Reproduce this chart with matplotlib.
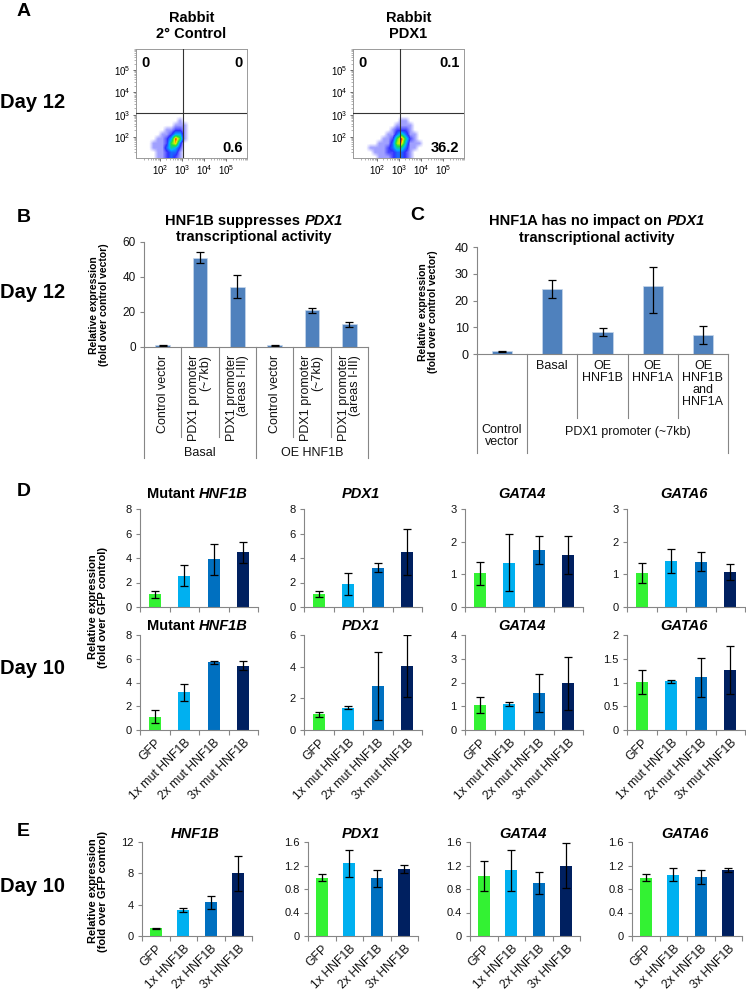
import numpy as np
import matplotlib
matplotlib.use('Agg')
import matplotlib.pyplot as plt
from matplotlib.colors import LinearSegmentedColormap
from matplotlib.transforms import blended_transform_factory
from matplotlib.ticker import FuncFormatter

plt.rcParams['font.family'] = ['Liberation Sans', 'DejaVu Sans']
plt.rcParams['mathtext.default'] = 'regular'

# ---------------- data ----------------
# panel A: coarse density of the flow dot plots (log10 units), 0 = empty, 9 = densest
flow_extent = (1.4, 4.2, 1.0, 3.4)
flow_ctrl = [
    [0, 0, 0, 0, 0, 0, 0, 0, 0, 0, 0, 0, 0, 0],
    [0, 0, 0, 0, 0, 0, 0, 0, 0, 0, 0, 0, 0, 0],
    [0, 0, 0, 0, 0, 0, 0, 0, 0, 0, 0, 0, 0, 0],
    [0, 0, 0, 0, 0, 0, 0, 1, 0, 0, 0, 0, 0, 0],
    [0, 0, 0, 0, 0, 0, 1, 1, 1, 0, 0, 0, 0, 0],
    [0, 0, 0, 0, 1, 1, 2, 2, 1, 0, 0, 0, 0, 0],
    [0, 0, 0, 1, 1, 2, 4, 4, 1, 0, 0, 0, 0, 0],
    [0, 0, 1, 1, 2, 4, 9, 6, 1, 0, 0, 0, 0, 0],
    [0, 1, 1, 1, 2, 6, 8, 3, 0, 0, 0, 0, 0, 0],
    [0, 1, 1, 1, 3, 5, 4, 2, 0, 0, 0, 0, 0, 0],
    [0, 0, 1, 1, 2, 3, 3, 1, 0, 0, 0, 0, 0, 0],
    [0, 0, 1, 1, 2, 3, 2, 1, 0, 0, 0, 0, 0, 0],
]
flow_pdx1 = [
    [0, 0, 0, 0, 0, 0, 0, 0, 0, 0, 0, 0, 0, 0],
    [0, 0, 0, 0, 0, 0, 0, 0, 0, 0, 0, 0, 0, 0],
    [0, 0, 0, 0, 0, 0, 0, 0, 0, 0, 0, 0, 0, 0],
    [0, 0, 0, 0, 0, 0, 0, 0, 1, 1, 0, 0, 0, 0],
    [0, 0, 0, 0, 0, 0, 0, 1, 1, 1, 1, 0, 0, 0],
    [0, 0, 0, 0, 0, 0, 1, 2, 2, 2, 1, 0, 0, 0],
    [0, 0, 0, 0, 0, 1, 1, 3, 5, 3, 1, 1, 0, 0],
    [0, 0, 0, 0, 1, 1, 2, 6, 9, 5, 2, 1, 0, 0],
    [0, 0, 0, 1, 1, 1, 3, 7, 8, 4, 1, 1, 1, 0],
    [0, 1, 1, 1, 1, 2, 3, 5, 5, 3, 1, 1, 0, 0],
    [0, 0, 1, 1, 1, 2, 2, 3, 3, 2, 1, 0, 0, 0],
    [0, 0, 0, 1, 1, 1, 2, 3, 3, 2, 1, 0, 0, 0],
]
quad_ctrl = ['0', '0', '0.6']
quad_pdx1 = ['0', '0.1', '36.2']
gate_x, gate_y = 3.04, 3.06

# panel B
b_labels = ['Control vector', 'PDX1 promoter\n(~7kb)', 'PDX1 promoter\n(areas I-III)',
            'Control vector', 'PDX1 promoter\n(~7kb)', 'PDX1 promoter\n(areas I-III)']
b_groups = ['Basal', 'OE HNF1B']
b_vals = [1.0, 51.0, 34.5, 1.0, 21.0, 13.1]
b_err = [0.3, 3.0, 6.5, 0.3, 1.4, 1.4]

# panel C
c_labels = ['', 'Basal', 'OE\nHNF1B', 'OE\nHNF1A', 'OE\nHNF1B\nand\nHNF1A']
c_groups = ['Control\nvector', 'PDX1 promoter (~7kb)']
c_vals = [1.0, 24.2, 8.3, 25.4, 7.1]
c_err_lo = [0.2, 3.4, 1.4, 10.1, 3.3]
c_err_hi = [0.2, 3.4, 1.4, 7.0, 3.3]

# panel D
d_labels = ['GFP', '1x mut HNF1B', '2x mut HNF1B', '3x mut HNF1B']
d1_hnf1b = [1.04, 2.54, 3.88, 4.45]; d1_hnf1b_err = [0.30, 0.85, 1.27, 0.83]
d1_pdx1 = [1.04, 1.86, 3.22, 4.50]; d1_pdx1_err = [0.25, 0.90, 0.40, 1.87]
d1_gata4 = [1.03, 1.35, 1.74, 1.59]; d1_gata4_err = [0.35, 0.87, 0.43, 0.58]
d1_gata6 = [1.03, 1.41, 1.38, 1.07]; d1_gata6_err = [0.31, 0.37, 0.29, 0.25]
d2_hnf1b = [1.10, 3.16, 5.70, 5.41]; d2_hnf1b_err = [0.55, 0.75, 0.10, 0.38]
d2_pdx1 = [1.00, 1.41, 2.79, 4.05]; d2_pdx1_err = [0.15, 0.08, 2.15, 1.95]
d2_gata4 = [1.04, 1.10, 1.56, 1.96]; d2_gata4_err = [0.33, 0.07, 0.80, 1.10]
d2_gata6 = [1.01, 1.03, 1.11, 1.26]; d2_gata6_err = [0.26, 0.03, 0.41, 0.51]

# panel E
e_labels = ['GFP', '1x HNF1B', '2x HNF1B', '3x HNF1B']
e_hnf1b = [1.00, 3.32, 4.30, 8.00]; e_hnf1b_err = [0.08, 0.20, 0.80, 2.20]
e_pdx1 = [0.99, 1.24, 0.98, 1.14]; e_pdx1_err = [0.06, 0.23, 0.15, 0.07]
e_gata4 = [1.02, 1.12, 0.90, 1.20]; e_gata4_err = [0.26, 0.35, 0.19, 0.38]
e_gata6 = [0.99, 1.04, 1.01, 1.12]; e_gata6_err = [0.06, 0.11, 0.12, 0.03]

bar_colors = ['#33f233', '#00b0f0', '#0070c0', '#002060']
excel_blue = '#4f81bd'
gray = '#868686'

# ---------------- helpers ----------------
W, H = 746, 990
fig = plt.figure(figsize=(W / 100, H / 100), dpi=100)
renderer = fig.canvas.get_renderer()


def px_axes(left, top, right, bottom):
    return fig.add_axes([left / W, 1 - bottom / H, (right - left) / W, (bottom - top) / H])


def ftext(x, y, s, **kw):
    return fig.text(x / W, 1 - y / H, s, **kw)


def rich_line(xc, y, chunks, size=10.5):
    # bold text with mixed normal / italic words, centred on xc
    sp = size * 100 / 72 * 0.278
    base = y + 0.36 * size * 100 / 72
    arts = []
    for s, st in chunks:
        t = ftext(0, base, s, fontsize=size, fontweight='bold', fontstyle=st,
                  ha='left', va='baseline')
        arts.append((t, t.get_window_extent(renderer).width))
    total = sum(w for _, w in arts) + sp * (len(arts) - 1)
    x = xc - total / 2
    for t, w in arts:
        t.set_x(x / W)
        x += w + sp


def excel_y(ax, ticks, size=8.5):
    for s in ['top', 'right']:
        ax.spines[s].set_visible(False)
    for s in ['left', 'bottom']:
        ax.spines[s].set_color(gray)
        ax.spines[s].set_linewidth(0.8)
    ax.set_yticks(ticks)
    ax.yaxis.set_major_formatter(FuncFormatter(lambda v, p: f'{v:g}'))
    ax.tick_params(axis='y', direction='out', length=3, width=0.8, color=gray,
                   labelsize=size, pad=3, labelcolor='#111111')


flow_cmap = LinearSegmentedColormap.from_list(
    'flow', [(0, 'white'), (0.1, '#a8a8ff'), (0.25, '#3030ff'), (0.45, '#00b4ff'),
             (0.65, '#20e040'), (0.85, '#f0f000'), (1.0, '#ff1a00')])


def flow_panel(left, title, grid, quads):
    ax = px_axes(left, 49, left + 111, 158)
    ax.imshow(np.array(grid, float), extent=flow_extent, origin='upper', cmap=flow_cmap,
              vmin=0, vmax=9, interpolation='bilinear', aspect='auto', zorder=1)
    ax.set_xlim(0.92, 5.4)
    ax.set_ylim(1.05, 5.36)
    ax.axvline(gate_x, color='#333333', lw=0.8, zorder=3)
    ax.axhline(gate_y, color='#333333', lw=0.8, zorder=3)
    dec = [2, 3, 4, 5]
    lab = [f'$10^{d}$' for d in dec]
    minor = [d + np.log10(k) for d in [1, 2, 3, 4, 5] for k in range(2, 10)]
    ax.set_xticks(dec)
    ax.set_xticklabels(lab)
    ax.set_yticks(dec)
    ax.set_yticklabels(lab)
    ax.set_xticks(minor, minor=True)
    ax.set_yticks(minor, minor=True)
    ax.tick_params(which='major', length=2.5, width=0.6, color='#555555', labelsize=7, pad=1.5)
    ax.tick_params(which='minor', length=1.2, width=0.4, color='#777777')
    for s in ax.spines.values():
        s.set_color('#9a9a9a')
        s.set_linewidth(0.7)
    kw = dict(fontsize=10.5, fontweight='bold', transform=ax.transAxes, zorder=4)
    ax.text(0.05, 0.94, quads[0], ha='left', va='top', **kw)
    ax.text(0.96, 0.94, quads[1], ha='right', va='top', **kw)
    ax.text(0.96, 0.03, quads[2], ha='right', va='bottom', **kw)
    ftext(left + 55.5, 26, title, fontsize=10.5, fontweight='bold', ha='center',
          va='center', linespacing=1.15)


def expr_panel(left, top, width, bottom, title, vals, errs, ylim, yticks, xlabels=None, tgap=16):
    ax = px_axes(left, top, left + width, bottom)
    x = np.arange(len(vals))
    ax.bar(x, vals, 0.42, color=bar_colors, yerr=errs,
           error_kw=dict(ecolor='black', elinewidth=0.9, capsize=2.6, capthick=0.9))
    ax.set_xlim(-0.5, len(vals) - 0.5)
    ax.set_ylim(*ylim)
    excel_y(ax, yticks, 8)
    ax.set_xticks(x)
    ax.set_xticks(np.arange(-0.5, len(vals)), minor=True)
    ax.tick_params(axis='x', which='major', length=0, pad=5)
    ax.tick_params(axis='x', which='minor', length=3.5, width=0.8, color=gray, direction='out')
    if xlabels:
        ax.set_xticklabels(xlabels, rotation=45, ha='right', rotation_mode='anchor',
                           fontsize=8.8, color='#111111')
    else:
        ax.set_xticklabels([])
    rich_line(left + width / 2 - 2, top - tgap, title, 10.5)
    return ax


# ---------------- panel A ----------------
ftext(17, 12, 'A', fontsize=14, fontweight='bold', va='center')
ftext(0, 103, 'Day 12', fontsize=14.5, fontweight='bold', va='center')
flow_panel(136, 'Rabbit\n2\u00b0 Control', flow_ctrl, quad_ctrl)
flow_panel(353, 'Rabbit\nPDX1', flow_pdx1, quad_pdx1)

# ---------------- panel B ----------------
ftext(17, 217, 'B', fontsize=14, fontweight='bold', va='center')
ftext(0, 292, 'Day 12', fontsize=14.5, fontweight='bold', va='center')
rich_line(254, 220, [('HNF1B suppresses', 'normal'), ('PDX1', 'italic')])
rich_line(254, 236, [('transcriptional activity', 'normal')])
axb = px_axes(144, 242, 368, 347)
xb = np.arange(len(b_vals))
axb.bar(xb, b_vals, 0.4, color=excel_blue, edgecolor='#c7d6ea', linewidth=0.5, yerr=b_err,
        error_kw=dict(ecolor='black', elinewidth=0.9, capsize=3, capthick=0.9))
axb.set_xlim(-0.5, len(b_vals) - 0.5)
axb.set_ylim(0, 60)
excel_y(axb, [0, 20, 40, 60])
axb.set_xticks([])
hb = 105.0
tb = blended_transform_factory(axb.transData, axb.transAxes)
for bnd in np.arange(-0.5, len(b_vals)):
    full = bnd in (-0.5, 2.5, 5.5)
    depth = 111 if full else 90
    axb.plot([bnd, bnd], [0, -depth / hb], transform=tb, clip_on=False, color=gray, lw=0.8)
for i, lab in enumerate(b_labels):
    axb.text(i, -8 / hb, lab, rotation=90, ha='center', va='top', multialignment='right',
             transform=tb, fontsize=9, linespacing=0.92, color='#111111')
for g, lab in enumerate(b_groups):
    axb.text(1 + 3 * g, -106 / hb, lab, ha='center', va='center', transform=tb,
             fontsize=9, color='#111111')
ftext(99, 305, 'Relative expression\n(fold over control vector)', rotation=90,
      fontsize=7.5, fontweight='bold', ha='center', va='center', linespacing=1.1)

# ---------------- panel C ----------------
ftext(410, 215, 'C', fontsize=14, fontweight='bold', va='center')
rich_line(597, 220, [('HNF1A has no impact on', 'normal'), ('PDX1', 'italic')])
rich_line(597, 237, [('transcriptional activity', 'normal')])
axc = px_axes(477, 247, 728, 354)
xc = np.arange(len(c_vals))
axc.bar(xc, c_vals, 0.4, color=excel_blue, edgecolor='#c7d6ea', linewidth=0.5,
        yerr=[c_err_lo, c_err_hi],
        error_kw=dict(ecolor='black', elinewidth=0.9, capsize=3, capthick=0.9))
axc.set_xlim(-0.5, len(c_vals) - 0.5)
axc.set_ylim(0, 40)
excel_y(axc, [0, 10, 20, 30, 40], 9)
axc.set_xticks([])
hc = 107.0
tc = blended_transform_factory(axc.transData, axc.transAxes)
for bnd in np.arange(-0.5, len(c_vals)):
    full = bnd in (-0.5, 0.5, 4.5)
    depth = 99 if full else 64
    axc.plot([bnd, bnd], [0, -depth / hc], transform=tc, clip_on=False, color=gray, lw=0.8)
for i, lab in enumerate(c_labels):
    axc.text(i, -6 / hc, lab, ha='center', va='top', transform=tc, fontsize=9,
             linespacing=1.0, color='#111111')
axc.text(0, -70 / hc, c_groups[0], ha='center', va='top', transform=tc, fontsize=9,
         linespacing=1.0, color='#111111')
axc.text(2.5, -72 / hc, c_groups[1], ha='center', va='top', transform=tc, fontsize=9,
         color='#111111')
ftext(428, 312, 'Relative expression\n(fold over control vector)', rotation=90,
      fontsize=7.5, fontweight='bold', ha='center', va='center', linespacing=1.1)

# ---------------- panel D ----------------
ftext(17, 492, 'D', fontsize=14, fontweight='bold', va='center')
ftext(0, 668, 'Day 10', fontsize=14.5, fontweight='bold', va='center')
ftext(98, 607, 'Relative expression\n(fold over GFP control)', rotation=90,
      fontsize=8, fontweight='bold', ha='center', va='center', linespacing=1.1)
d_left = [140, 304, 465, 627]
t_hnf = [('Mutant', 'normal'), ('HNF1B', 'italic')]
t_pdx = [('PDX1', 'italic')]
t_g4 = [('GATA4', 'italic')]
t_g6 = [('GATA6', 'italic')]
expr_panel(d_left[0], 509, 118, 607, t_hnf, d1_hnf1b, d1_hnf1b_err, (0, 8), [0, 2, 4, 6, 8])
expr_panel(d_left[1], 509, 118, 607, t_pdx, d1_pdx1, d1_pdx1_err, (0, 8), [0, 2, 4, 6, 8])
expr_panel(d_left[2], 509, 118, 607, t_g4, d1_gata4, d1_gata4_err, (0, 3), [0, 1, 2, 3])
expr_panel(d_left[3], 509, 118, 607, t_g6, d1_gata6, d1_gata6_err, (0, 3), [0, 1, 2, 3])
expr_panel(d_left[0], 635, 118, 730, t_hnf, d2_hnf1b, d2_hnf1b_err, (0, 8), [0, 2, 4, 6, 8], d_labels, 10)
expr_panel(d_left[1], 635, 118, 730, t_pdx, d2_pdx1, d2_pdx1_err, (0, 6), [0, 2, 4, 6], d_labels, 10)
expr_panel(d_left[2], 635, 118, 730, t_g4, d2_gata4, d2_gata4_err, (0, 4), [0, 1, 2, 3, 4], d_labels, 10)
expr_panel(d_left[3], 635, 118, 730, t_g6, d2_gata6, d2_gata6_err, (0, 2), [0, 0.5, 1, 1.5, 2], d_labels, 10)

# ---------------- panel E ----------------
ftext(17, 832, 'E', fontsize=14, fontweight='bold', va='center')
ftext(0, 887, 'Day 10', fontsize=14.5, fontweight='bold', va='center')
ftext(98, 891, 'Relative expression\n(fold over GFP control)', rotation=90,
      fontsize=8, fontweight='bold', ha='center', va='center', linespacing=1.1)
e_left = [142, 308, 470, 632]
e_ticks = [0, 0.4, 0.8, 1.2, 1.6]
expr_panel(e_left[0], 842, 110, 936, [('HNF1B', 'italic')], e_hnf1b, e_hnf1b_err, (0, 12), [0, 4, 8, 12], e_labels, 9)
expr_panel(e_left[1], 842, 110, 936, t_pdx, e_pdx1, e_pdx1_err, (0, 1.6), e_ticks, e_labels, 9)
expr_panel(e_left[2], 842, 110, 936, t_g4, e_gata4, e_gata4_err, (0, 1.6), e_ticks, e_labels, 9)
expr_panel(e_left[3], 842, 110, 936, t_g6, e_gata6, e_gata6_err, (0, 1.6), e_ticks, e_labels, 9)

fig.savefig('out.png', dpi=100, facecolor='white')
